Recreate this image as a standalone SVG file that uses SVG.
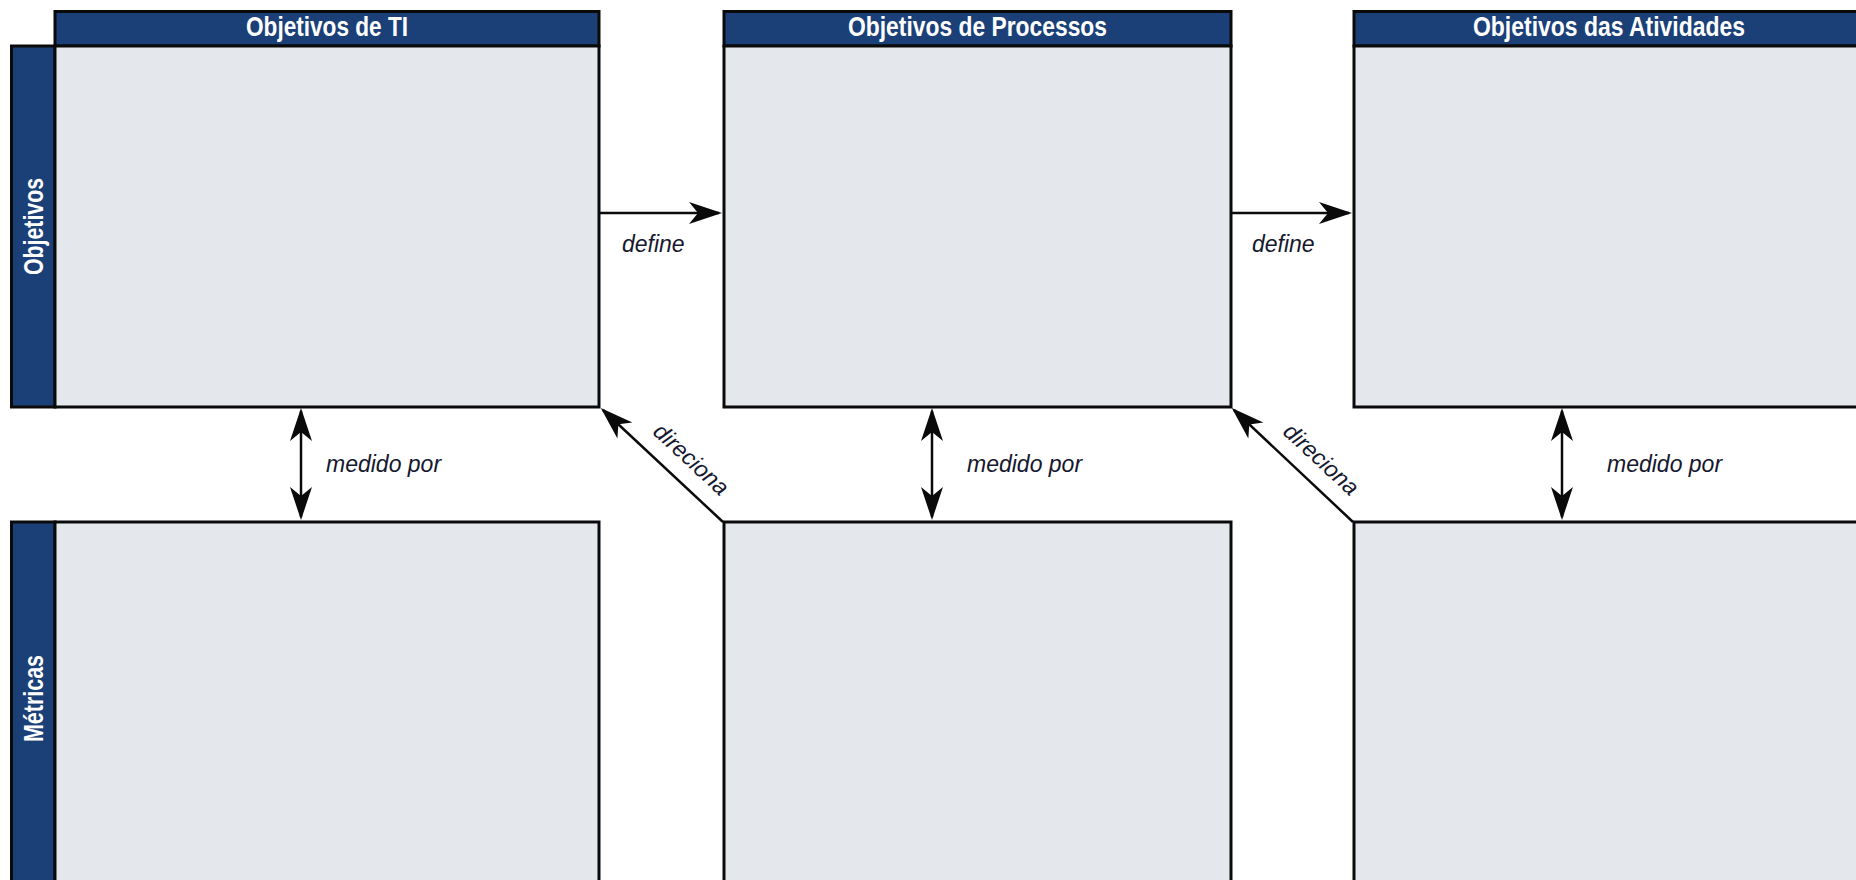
<svg xmlns="http://www.w3.org/2000/svg" width="1856" height="880" viewBox="0 0 1856 880">
  <style>
    .hdr { fill: #1b3f77; stroke: #0a0a0a; stroke-width: 3; }
    .body { fill: #e4e8ec; stroke: #0a0a0a; stroke-width: 3; }
    .htxt { font-family: "Liberation Sans", Arial, sans-serif; font-weight: bold; font-size: 28px; fill: #ffffff; text-anchor: middle; }
    .lbl { font-family: "Liberation Sans", Arial, sans-serif; font-style: italic; font-size: 23px; fill: #15182e; }
    .conn { stroke: #0a0a0a; stroke-width: 2.5; fill: none; }
  </style>
  <defs>
    <marker id="arrow" viewBox="-32 -12 36 24" refX="0" refY="0" markerWidth="36" markerHeight="24" markerUnits="userSpaceOnUse" orient="auto-start-reverse">
      <path d="M3,0 L-30,-11 L-21,0 L-30,11 Z" fill="#0a0a0a"/>
    </marker>
  </defs>

  <rect width="1856" height="880" fill="#ffffff"/>

  <!-- IT goals column -->
  <g id="objetivos-ti">
    <rect class="hdr" x="55" y="11.5" width="544" height="34.5"/>
    <text class="htxt" x="327" y="36" textLength="162" lengthAdjust="spacingAndGlyphs">Objetivos de TI</text>
    <rect class="hdr" x="11.5" y="46" width="43.5" height="361"/>
    <text class="htxt" transform="translate(43 226.5) rotate(-90)" x="0" y="0" textLength="97" lengthAdjust="spacingAndGlyphs">Objetivos</text>
    <rect class="body" x="55" y="46" width="544" height="361"/>
  </g>
  <g id="metricas-ti">
    <rect class="hdr" x="11.5" y="522" width="43.5" height="370"/>
    <text class="htxt" transform="translate(43 698.5) rotate(-90)" x="0" y="0" textLength="87" lengthAdjust="spacingAndGlyphs">Métricas</text>
    <rect class="body" x="55" y="522" width="544" height="370"/>
  </g>

  <!-- Process goals column -->
  <g id="objetivos-processos">
    <rect class="hdr" x="724" y="11.5" width="507" height="34.5"/>
    <text class="htxt" x="977.5" y="36" textLength="259" lengthAdjust="spacingAndGlyphs">Objetivos de Processos</text>
    <rect class="body" x="724" y="46" width="507" height="361"/>
  </g>
  <g id="metricas-processos">
    <rect class="body" x="724" y="522" width="507" height="370"/>
  </g>

  <!-- Activity goals column -->
  <g id="objetivos-atividades">
    <rect class="hdr" x="1354" y="11.5" width="510" height="34.5"/>
    <text class="htxt" x="1609" y="36" textLength="272" lengthAdjust="spacingAndGlyphs">Objetivos das Atividades</text>
    <rect class="body" x="1354" y="46" width="510" height="361"/>
  </g>
  <g id="metricas-atividades">
    <rect class="body" x="1354" y="522" width="510" height="370"/>
  </g>

  <!-- Connectors -->
  <g id="connectors">
    <path class="conn" d="M599,213 H719" marker-end="url(#arrow)"/>
    <text class="lbl" x="622" y="252">define</text>
    <path class="conn" d="M1231,213 H1349" marker-end="url(#arrow)"/>
    <text class="lbl" x="1252" y="252">define</text>

    <path class="conn" d="M301,411 V517" marker-start="url(#arrow)" marker-end="url(#arrow)"/>
    <text class="lbl" x="326" y="472">medido por</text>
    <path class="conn" d="M932,411 V517" marker-start="url(#arrow)" marker-end="url(#arrow)"/>
    <text class="lbl" x="967" y="472">medido por</text>
    <path class="conn" d="M1562,411 V517" marker-start="url(#arrow)" marker-end="url(#arrow)"/>
    <text class="lbl" x="1607" y="472">medido por</text>

    <path class="conn" d="M723,522 L603,410" marker-end="url(#arrow)"/>
    <text class="lbl" text-anchor="middle" transform="translate(686 465) rotate(42.8)">direciona</text>
    <path class="conn" d="M1353,522 L1234,410" marker-end="url(#arrow)"/>
    <text class="lbl" text-anchor="middle" transform="translate(1316 465) rotate(42.8)">direciona</text>
  </g>
</svg>
